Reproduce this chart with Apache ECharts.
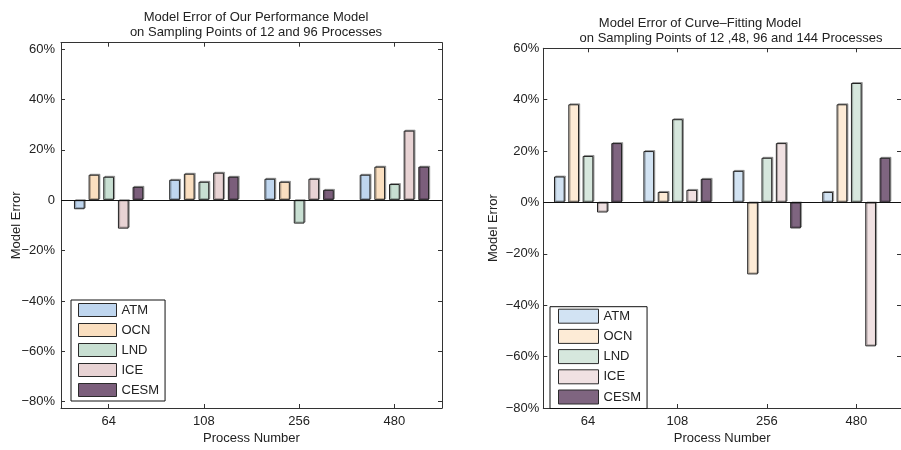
<!DOCTYPE html>
<html>
<head>
<meta charset="utf-8">
<script src="https://cdn.jsdelivr.net/npm/echarts@6/dist/echarts.min.js"></script>
<style>
html,body{margin:0;padding:0;background:#fff;}
#main{width:901px;height:450px;}
</style>
</head>
<body>
<div id="main"></div>
<script>
// ---- data ----
var categories = ['64', '108', '256', '480'];
var seriesNames = ['ATM', 'OCN', 'LND', 'ICE', 'CESM'];
var yTicks = [-80, -60, -40, -20, 0, 20, 40, 60];

// Left chart: Our Performance Model (percent)
var leftATM  = [-3.6, 8.1, 8.5, 10.1];
var leftOCN  = [10.1, 10.5, 7.3, 13.3];
var leftLND  = [9.3, 7.3, -9.3, 6.4];
var leftICE  = [-11.3, 10.9, 8.5, 27.6];
var leftCESM = [5.3, 9.3, 4.1, 13.3];

// Right chart: Curve-Fitting Model (percent)
var rightATM  = [10.1, 20.0, 12.3, 4.1];
var rightOCN  = [38.2, 4.1, -28.0, 38.2];
var rightLND  = [18.1, 32.4, 17.4, 46.5];
var rightICE  = [-3.9, 4.9, 23.1, -56.0];
var rightCESM = [23.1, 9.2, -10.1, 17.4];

var leftColors  = ['#BFD6EF', '#FADFC0', '#C8DFD2', '#E8D3D4', '#7B5E7B'];
var rightColors = ['#D2E3F3', '#FDEBD6', '#D6E7DD', '#F0E1E2', '#7F6580'];

var leftData  = [leftATM, leftOCN, leftLND, leftICE, leftCESM];
var rightData = [rightATM, rightOCN, rightLND, rightICE, rightCESM];

var FONT = 'Liberation Sans, Arial, Helvetica, sans-serif';
var TXT = '#222';
var AX = '#333';
var FS = 13;

function fmtLeft(v){ if (v === 0) return '0'; return (v < 0 ? '\u2212' : '') + Math.abs(v) + '%'; }
function fmtRight(v){ return (v < 0 ? '\u2212' : '') + Math.abs(v) + '%'; }

function makeX(gridIndex, pos, labelMargin, showName){
  var ax = {
    type: 'category', gridIndex: gridIndex, position: pos, data: categories,
    boundaryGap: true,
    axisLine: { show: true, onZero: false, lineStyle: { color: AX, width: 1 } },
    axisTick: { show: true, inside: true, alignWithLabel: true, length: 4, lineStyle: { color: AX } },
    axisLabel: { show: pos === 'bottom', margin: labelMargin, color: TXT, fontFamily: FONT, fontSize: FS },
    splitLine: { show: false }
  };
  if (showName) {
    ax.name = 'Process Number';
    ax.nameLocation = 'middle';
    ax.nameGap = 24;
    ax.nameMoveOverlap = false;
    ax.nameTextStyle = { color: TXT, fontFamily: FONT, fontSize: FS };
  }
  return ax;
}

function makeY(gridIndex, pos, min, max, fmt, labelMargin, nameGap){
  var ax = {
    type: 'value', gridIndex: gridIndex, position: pos, min: min, max: max,
    axisLine: { show: true, lineStyle: { color: AX, width: 1 } },
    axisTick: { show: true, inside: true, length: 4, customValues: yTicks, lineStyle: { color: AX } },
    axisLabel: { show: pos === 'left', customValues: yTicks, formatter: fmt, margin: labelMargin,
                 color: TXT, fontFamily: FONT, fontSize: FS },
    splitLine: { show: false }
  };
  if (pos === 'left') {
    ax.name = 'Model Error';
    ax.nameLocation = 'middle';
    ax.nameGap = nameGap;
    ax.nameMoveOverlap = false;
    ax.nameTextStyle = { color: TXT, fontFamily: FONT, fontSize: FS };
  }
  return ax;
}

var series = [];
function addSeries(dataSets, colors, xIdx, yIdx, gap){
  for (var i = 0; i < seriesNames.length; i++) {
    var s = {
      type: 'bar', name: seriesNames[i], xAxisIndex: xIdx, yAxisIndex: yIdx,
      data: dataSets[i], barWidth: 10.7, barGap: gap,
      itemStyle: { color: colors[i], borderColor: '#222', borderWidth: 1,
                   shadowColor: 'rgba(0,0,0,0.3)', shadowOffsetX: 1.2, shadowOffsetY: -1, shadowBlur: 0 },
      emphasis: { disabled: true },
      animation: false
    };
    if (i === 0) {
      s.markLine = { silent: true, symbol: 'none', label: { show: false },
                     lineStyle: { color: '#111', width: 1, type: 'solid' },
                     data: [{ yAxis: 0 }], animation: false };
    }
    series.push(s);
  }
}
addSeries(leftData, leftColors, 0, 0, '37%');
addSeries(rightData, rightColors, 2, 2, '34%');

function legendData(colors){
  return seriesNames.map(function(n, i){
    return { name: n, icon: 'rect',
             itemStyle: { color: colors[i], borderColor: '#2a2a2a', borderWidth: 1, shadowBlur: 0, shadowOffsetX: 0, shadowOffsetY: 0 } };
  });
}

var option = {
  backgroundColor: '#fff',
  animation: false,
  title: [
    { text: 'Model Error of Our Performance Model\non Sampling Points of 12 and 96 Processes',
      left: 251, top: 5, textAlign: 'center',
      textStyle: { color: TXT, fontFamily: FONT, fontSize: FS, fontWeight: 'normal', lineHeight: 15 } },
    { text: 'Model Error of Curve\u2013Fitting Model',
      left: 695, top: 11, textAlign: 'center',
      textStyle: { color: TXT, fontFamily: FONT, fontSize: FS, fontWeight: 'normal', lineHeight: 15 } },
    { text: 'on Sampling Points of 12 ,48, 96 and 144 Processes',
      left: 726, top: 26, textAlign: 'center',
      textStyle: { color: TXT, fontFamily: FONT, fontSize: FS, fontWeight: 'normal', lineHeight: 15 } }
  ],
  grid: [
    { left: 61, top: 42.7, right: 459, bottom: 41.7, containLabel: false },
    { left: 543.3, top: 48.3, right: -7, bottom: 39.3, containLabel: false }
  ],
  xAxis: [
    makeX(0, 'bottom', 7, true),
    makeX(0, 'top', 7, false),
    makeX(1, 'bottom', 7, true),
    makeX(1, 'top', 7, false)
  ],
  yAxis: [
    makeY(0, 'left', -82.5, 62.5, fmtLeft, 6, 38),
    makeY(0, 'right', -82.5, 62.5, fmtLeft, 6, 38),
    makeY(1, 'left', -80, 60, fmtRight, 4, 43),
    makeY(1, 'right', -80, 60, fmtRight, 4, 43)
  ],
  legend: [
    { orient: 'vertical', left: 71, top: 300, padding: [3, 6, 4, 7],
      itemWidth: 38, itemHeight: 13, itemGap: 6, selectedMode: false, icon: 'rect',
      borderColor: '#111', borderWidth: 1, backgroundColor: '#fff',
      textStyle: { color: TXT, fontFamily: FONT, fontSize: FS },
      data: legendData(leftColors) },
    { orient: 'vertical', left: 550, top: 306.7, padding: [2, 6, 4, 8],
      itemWidth: 40, itemHeight: 14, itemGap: 5.2, selectedMode: false, icon: 'rect',
      borderColor: '#111', borderWidth: 1, backgroundColor: '#fff',
      textStyle: { color: TXT, fontFamily: FONT, fontSize: FS },
      data: legendData(rightColors) }
  ],
  series: series
};

var chart = echarts.init(document.getElementById('main'), null, { renderer: 'canvas' });
chart.setOption(option);
</script>
</body>
</html>
